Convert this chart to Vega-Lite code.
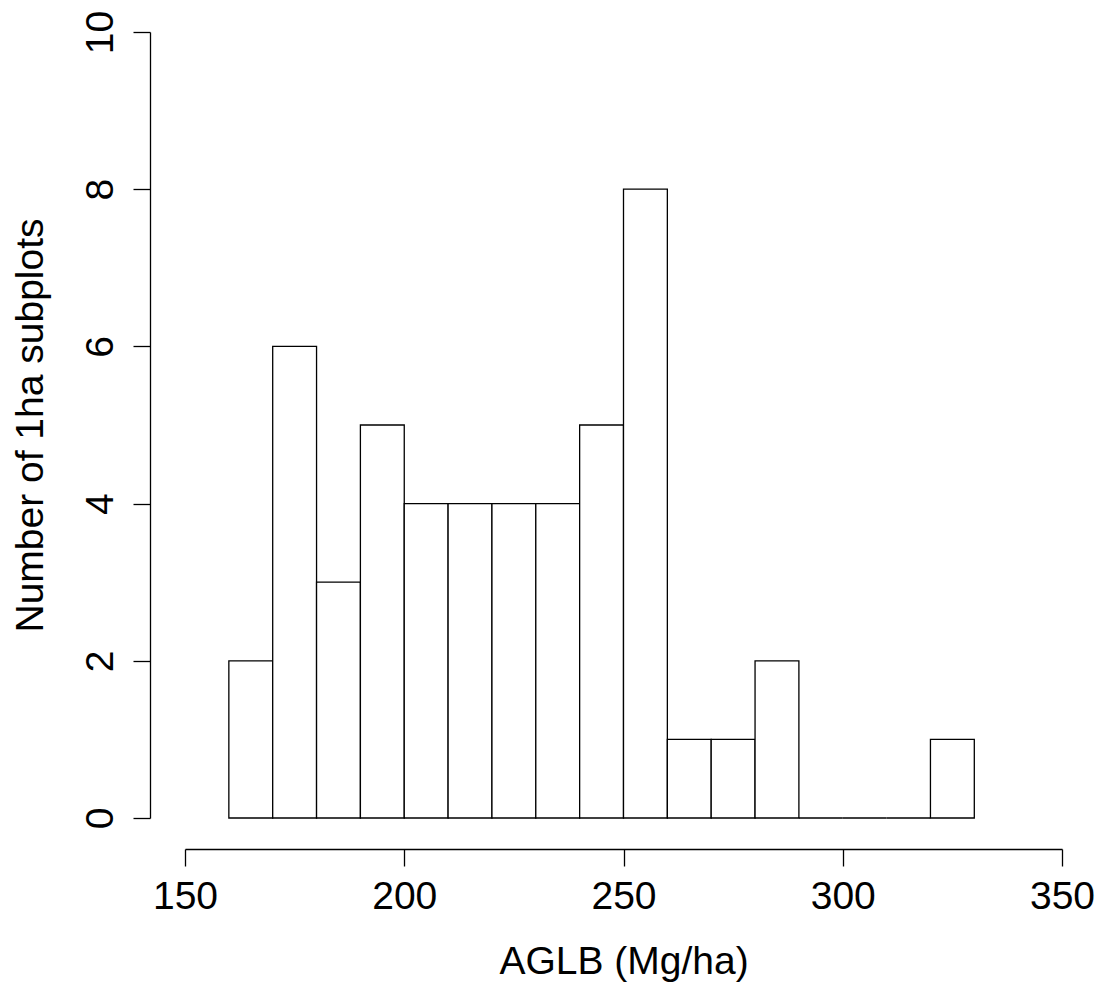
{
  "$schema": "https://vega.github.io/schema/vega-lite/v6.json",
  "autosize": {"type": "none"},
  "padding": {"left": 185, "top": 32, "right": 44, "bottom": 172},
  "width": 877,
  "height": 786,
  "background": "white",
  "config": {
    "view": {"stroke": null},
    "font": "Liberation Sans",
    "axis": {
      "grid": false,
      "domainColor": "black",
      "domainWidth": 1.3,
      "tickColor": "black",
      "tickWidth": 1.3,
      "tickSize": 17,
      "labelColor": "black",
      "titleColor": "black",
      "labelFont": "Liberation Sans",
      "titleFont": "Liberation Sans",
      "labelFontSize": 39,
      "titleFontSize": 39,
      "titleFontWeight": "normal"
    }
  },
  "data": {
    "values": [
      {"start": 160, "end": 170, "count": 2},
      {"start": 170, "end": 180, "count": 6},
      {"start": 180, "end": 190, "count": 3},
      {"start": 190, "end": 200, "count": 5},
      {"start": 200, "end": 210, "count": 4},
      {"start": 210, "end": 220, "count": 4},
      {"start": 220, "end": 230, "count": 4},
      {"start": 230, "end": 240, "count": 4},
      {"start": 240, "end": 250, "count": 5},
      {"start": 250, "end": 260, "count": 8},
      {"start": 260, "end": 270, "count": 1},
      {"start": 270, "end": 280, "count": 1},
      {"start": 280, "end": 290, "count": 2},
      {"start": 290, "end": 300, "count": 0},
      {"start": 300, "end": 310, "count": 0},
      {"start": 310, "end": 320, "count": 0},
      {"start": 320, "end": 330, "count": 1}
    ]
  },
  "mark": {"type": "rect", "fill": "white", "stroke": "black", "strokeWidth": 1.3},
  "encoding": {
    "x": {
      "field": "start",
      "type": "quantitative",
      "scale": {"domain": [150, 350], "nice": false, "zero": false},
      "axis": {
        "title": "AGLB (Mg/ha)",
        "values": [150, 200, 250, 300, 350],
        "offset": 31,
        "labelPadding": 11,
        "titlePadding": 26,
        "labelFlush": false,
        "labelOverlap": false
      }
    },
    "x2": {"field": "end"},
    "y": {
      "field": "count",
      "type": "quantitative",
      "scale": {"domain": [0, 10], "nice": false},
      "axis": {
        "title": "Number of 1ha subplots",
        "values": [0, 2, 4, 6, 8, 10],
        "offset": 35,
        "labelAngle": -90,
        "labelAlign": "center",
        "labelBaseline": "alphabetic",
        "labelPadding": 21,
        "titlePadding": 31,
        "labelFlush": false,
        "labelOverlap": false
      }
    },
    "y2": {"datum": 0}
  }
}
